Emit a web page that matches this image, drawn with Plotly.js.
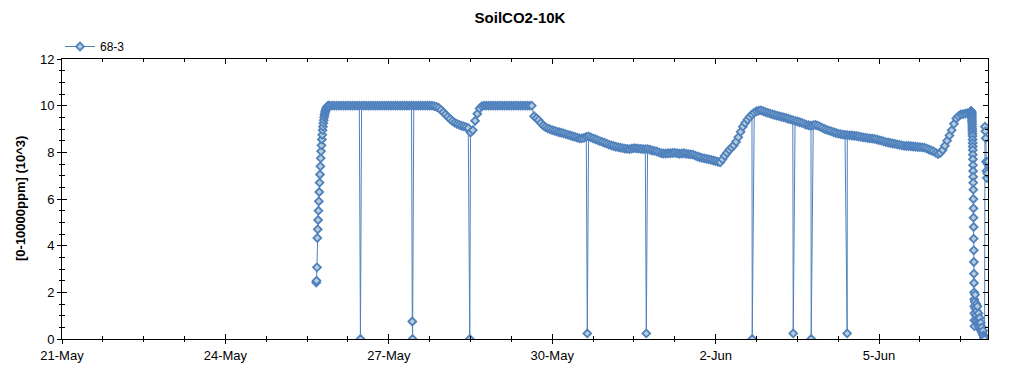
<!DOCTYPE html>
<html>
<head>
<meta charset="utf-8">
<script src="https://cdn.plot.ly/plotly-3.0.1.min.js"></script>
<style>html,body{margin:0;padding:0;background:#fff;}#chart{width:1024px;height:375px;}</style>
</head>
<body>
<div id="chart"></div>
<script>
// ---------------- DATA ----------------
const seriesName = '68-3';
const chartTitle = 'SoilCO2-10K';
const yTitle = '[0-10000ppm] (10^3)';
const xRange = ['2019-05-21', '2019-06-07'];
const yRange = [0, 12];

// initial rise, 10-minute readings
const riseStart = '2019-05-25 16:00';
const riseStepMin = 10;
const riseCO2 = [2.42, 2.5, 3.07, 4.33, 4.7, 5.1, 5.5, 5.9, 6.3, 6.7, 7.05, 7.4, 7.75, 8.05, 8.3, 8.55,
  8.75, 8.95, 9.1, 9.25, 9.38, 9.5, 9.6, 9.68, 9.75, 9.8, 9.85, 9.89, 9.92, 9.95, 9.97, 9.98, 9.99, 10.0];

// hourly readings, 25-May 22:00 .. 6-Jun 16:00
const hourlyStart = '2019-05-25 22:00';
const hourlyStepMin = 60;
const hourlyCO2 = [
  10.0, 10.0,
  // 26-May
  10.0, 10.0, 10.0, 10.0, 10.0, 10.0, 10.0, 10.0, 10.0, 10.0, 10.0, 10.0, 10.0, 10.0, 10.0, 10.0, 10.0, 10.0, 10.0, 10.0, 10.0, 10.0, 10.0, 10.0,
  // 27-May
  10.0, 10.0, 10.0, 10.0, 10.0, 10.0, 10.0, 10.0, 10.0, 10.0, 10.0, 10.0, 10.0, 10.0, 10.0, 10.0, 10.0, 10.0, 10.0, 10.0, 9.98, 9.95, 9.9, 9.82,
  // 28-May
  9.72, 9.62, 9.52, 9.43, 9.34, 9.27, 9.22, 9.18, 9.14, 9.11, 9.08, 9.04, 8.85, 8.95, 9.35, 9.65, 9.88, 9.98, 10.0, 10.0, 10.0, 10.0, 10.0, 10.0,
  // 29-May
  10.0, 10.0, 10.0, 10.0, 10.0, 10.0, 10.0, 10.0, 10.0, 10.0, 10.0, 10.0, 10.0, 10.0, 10.0, 10.0, 9.55, 9.46, 9.38, 9.26, 9.15, 9.08, 9.03, 8.99,
  // 30-May
  8.95, 8.92, 8.89, 8.86, 8.84, 8.81, 8.78, 8.75, 8.72, 8.69, 8.66, 8.63, 8.6, 8.6, 8.62, 8.66, 8.68, 8.64, 8.6, 8.56, 8.52, 8.48, 8.45, 8.41,
  // 31-May
  8.37, 8.33, 8.3, 8.27, 8.24, 8.22, 8.2, 8.18, 8.16, 8.15, 8.14, 8.16, 8.18, 8.17, 8.16, 8.15, 8.14, 8.14, 8.14, 8.11, 8.08, 8.06, 8.04, 8.0,
  // 1-Jun
  7.96, 7.95, 7.95, 7.96, 7.96, 7.97, 7.98, 7.96, 7.94, 7.95, 7.96, 7.94, 7.92, 7.91, 7.9, 7.86, 7.82, 7.79, 7.76, 7.74, 7.72, 7.7, 7.68, 7.65,
  // 2-Jun
  7.62, 7.59, 7.57, 7.7, 7.85, 7.98, 8.1, 8.2, 8.3, 8.45, 8.65, 8.88, 9.1, 9.26, 9.4, 9.52, 9.62, 9.7, 9.76, 9.79, 9.8, 9.76, 9.72, 9.69,
  // 3-Jun
  9.66, 9.63, 9.6, 9.57, 9.55, 9.52, 9.5, 9.47, 9.44, 9.41, 9.38, 9.35, 9.32, 9.29, 9.26, 9.22, 9.18, 9.16, 9.14, 9.16, 9.18, 9.14, 9.1, 9.05,
  // 4-Jun
  9.0, 8.96, 8.93, 8.9, 8.86, 8.83, 8.8, 8.78, 8.76, 8.75, 8.74, 8.73, 8.72, 8.71, 8.7, 8.68, 8.66, 8.64, 8.63, 8.61, 8.6, 8.59, 8.58, 8.55,
  // 5-Jun
  8.52, 8.5, 8.47, 8.44, 8.42, 8.4, 8.38, 8.36, 8.34, 8.32, 8.3, 8.28, 8.27, 8.27, 8.26, 8.25, 8.24, 8.23, 8.22, 8.21, 8.2, 8.16, 8.12, 8.08,
  // 6-Jun 00:00 .. 16:00
  8.04, 7.98, 7.93, 7.98, 8.1, 8.28, 8.5, 8.72, 8.95, 9.22, 9.45, 9.55, 9.62, 9.64, 9.66, 9.68, 9.7
];

// fast fall on 6-Jun, 2-minute readings
const fallStart = '2019-06-06 16:30';
const fallStepMin = 2;
const fallCO2 = [9.74, 9.75, 9.76, 9.76, 9.74, 9.72, 9.7, 9.68, 9.66, 9.62, 9.58, 9.52, 9.45, 9.38, 9.3, 9.2,
  9.1, 9.0, 8.9, 8.8, 8.7, 8.55, 8.4, 8.25, 8.1, 7.9, 7.7, 7.45, 7.2, 6.95, 6.7, 6.4, 6.0, 5.6, 5.2, 4.8,
  4.3, 3.8, 3.3, 2.8, 2.4, 2.0, 1.7, 1.4, 1.1, 0.8, 0.55];

// low readings after the fall, 10-minute readings
const lowStart = '2019-06-06 18:10';
const lowStepMin = 10;
const lowCO2 = [1.6, 1.9, 1.3, 1.0, 1.5, 1.2, 0.8, 1.4, 0.9, 0.6, 1.1, 0.7, 0.5, 0.9, 0.6, 0.4, 0.7, 0.4,
  0.3, 0.5, 0.3, 0.2, 0.35, 0.15, 0.05, 0.1, 0.0];

// recovery at the very end, 10-minute readings
const recoverStart = '2019-06-06 22:40';
const recoverStepMin = 10;
const recoverCO2 = [9.1, 8.9, 8.6, 7.6, 7.2, 6.9, 7.1, 7.5, 7.6];

// isolated drop-out readings
const dropTimes = ['2019-05-26 11:30', '2019-05-27 10:20', '2019-05-27 10:28', '2019-05-28 11:40',
  '2019-05-30 15:27', '2019-05-31 17:27', '2019-06-02 16:07', '2019-06-03 10:11', '2019-06-03 18:06',
  '2019-06-04 09:57'];
const dropCO2 = [0, 0.75, 0, 0, 0.24, 0.24, 0, 0.24, 0, 0.24];

// ---------------- BUILD ----------------
function toMs(s) { return Date.parse(s.replace(' ', 'T') + ':00Z'); }
const pts = [];
function addSeg(start, stepMin, vals) {
  const t0 = toMs(start);
  vals.forEach((v, i) => pts.push([t0 + i * stepMin * 60000, v]));
}
addSeg(riseStart, riseStepMin, riseCO2);
addSeg(hourlyStart, hourlyStepMin, hourlyCO2);
addSeg(fallStart, fallStepMin, fallCO2);
addSeg(lowStart, lowStepMin, lowCO2);
addSeg(recoverStart, recoverStepMin, recoverCO2);
dropTimes.forEach((t, i) => pts.push([toMs(t), dropCO2[i]]));
pts.sort((a, b) => a[0] - b[0]);

const lineColor = '#4F81BD';
const font = 'Liberation Sans, Arial, sans-serif';

const traces = [
  {
    type: 'scatter', mode: 'lines+markers', name: seriesName,
    x: pts.map(p => p[0]), y: pts.map(p => p[1]),
    line: {color: lineColor, width: 1},
    marker: {symbol: 'diamond', size: 6, color: '#BACDD9', line: {color: lineColor, width: 1.8}},
    hoverinfo: 'x+y'
  },
  {type: 'scatter', x: [], y: [], xaxis: 'x2', yaxis: 'y2', showlegend: false, hoverinfo: 'skip'}
];

const dayMs = 86400000;
const plotL = 62, plotR = 36, plotT = 59, plotB = 36;
const plotW = 1024 - plotL - plotR;
const layout = {
  width: 1024, height: 375,
  margin: {l: plotL, r: plotR, t: plotT, b: plotB, autoexpand: false},
  paper_bgcolor: '#fff', plot_bgcolor: '#fff',
  font: {family: font, color: '#000', size: 13},
  title: {text: '<b>' + chartTitle + '</b>', font: {family: font, size: 15, color: '#000'},
    x: 520 / 1024, xanchor: 'center', xref: 'container', y: 1 - 18 / 375, yanchor: 'middle', yref: 'container',
    automargin: false},
  showlegend: true,
  legend: {xref: 'container', yref: 'container', x: 60 / 1024, y: 1 - 32 / 375, xanchor: 'left', yanchor: 'top',
    font: {family: font, size: 12, color: '#000'}, bgcolor: 'rgba(0,0,0,0)', borderwidth: 0},
  annotations: [{
    text: '<b>' + yTitle + '</b>', textangle: -90, showarrow: false,
    xref: 'paper', yref: 'paper', x: (20 - plotL) / plotW, y: 0.5, xanchor: 'center', yanchor: 'middle',
    font: {family: font, size: 13, color: '#000'}
  }],
  xaxis: {
    type: 'date', range: xRange, tick0: xRange[0], dtick: 3 * dayMs, tickformat: '%-d-%b', automargin: false,
    ticks: 'outside', ticklen: 4, tickcolor: '#000', tickwidth: 1,
    showline: true, linecolor: '#000', linewidth: 1, mirror: true,
    showgrid: false, zeroline: false, tickfont: {family: font, size: 13, color: '#000'},
    minor: {dtick: 0.75 * dayMs, tick0: xRange[0], ticks: 'outside', ticklen: 2, tickcolor: '#000', showgrid: false}
  },
  yaxis: {
    range: yRange, dtick: 2, tick0: 0, automargin: false,
    ticks: 'outside', ticklen: 4, tickcolor: '#000', tickwidth: 1,
    showline: true, linecolor: '#000', linewidth: 1, mirror: true,
    showgrid: false, zeroline: false, tickfont: {family: font, size: 13, color: '#000'},
    minor: {dtick: 0.5, tick0: 0, ticks: 'outside', ticklen: 2, tickcolor: '#000', showgrid: false}
  },
  xaxis2: {
    type: 'date', overlaying: 'x', anchor: 'y', range: xRange, tick0: xRange[0], dtick: 3 * dayMs, automargin: false,
    ticks: 'inside', ticklen: 5, tickcolor: '#000', mirror: 'allticks', showticklabels: false,
    showline: false, showgrid: false, zeroline: false,
    minor: {dtick: 0.75 * dayMs, tick0: xRange[0], ticks: 'inside', ticklen: 3, tickcolor: '#000', showgrid: false}
  },
  yaxis2: {
    overlaying: 'y', anchor: 'x', side: 'left', range: yRange, dtick: 2, tick0: 0, automargin: false,
    ticks: 'inside', ticklen: 5, tickcolor: '#000', mirror: 'allticks', showticklabels: false,
    showline: false, showgrid: false, zeroline: false,
    minor: {dtick: 0.5, tick0: 0, ticks: 'inside', ticklen: 3, tickcolor: '#000', showgrid: false}
  }
};

Plotly.newPlot('chart', traces, layout, {displayModeBar: false, staticPlot: true});
</script>
</body>
</html>
